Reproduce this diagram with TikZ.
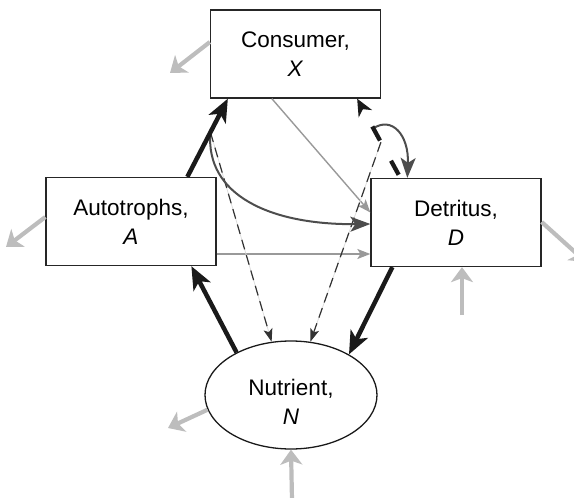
\documentclass[tikz,border=0pt]{standalone}
\usepackage{fontspec}
\setmainfont{Liberation Sans}
\usetikzlibrary{arrows.meta,shapes.geometric,calc}
\definecolor{ingray}{HTML}{BDBDBD}
\definecolor{midgray}{HTML}{999999}
\definecolor{curvegray}{HTML}{4D4D4D}
\definecolor{faint}{HTML}{DDDDDD}
\definecolor{inkblack}{HTML}{1A1A1A}
\begin{document}
\begin{tikzpicture}[x=1pt,y=-1pt,
  lbltext/.style={align=center,font=\fontsize{22.5}{29}\selectfont,inner sep=0pt},
  box/.style={lbltext,draw=black!85,line width=1.3pt,minimum width=170pt,minimum height=88pt},
  ell/.style={ellipse,draw=black!90,line width=1.3pt,minimum width=172pt,minimum height=108pt,inner sep=0pt},
  bigflow/.style={draw=inkblack,line width=4.5pt,-{Stealth[length=23pt,width=19pt,inset=6pt]}},
  bigdash/.style={draw=inkblack,line width=4.3pt,dash pattern=on 16pt off 23pt,dash phase=35.5pt,-{Stealth[length=17pt,width=15pt,inset=5pt]}},
  thinflow/.style={draw=midgray,line width=1.4pt,-{Stealth[length=13pt,width=10pt,inset=3pt]}},
  curveflow/.style={draw=curvegray,line width=2pt,-{Stealth[length=20pt,width=15pt,inset=5pt]}},
  faintline/.style={draw=faint,line width=0.8pt},
  dashflow/.style={draw=black!80,line width=1.2pt,dash pattern=on 10pt off 6pt,-{Stealth[length=13pt,width=9pt,inset=3pt]}},
  extflow/.style={draw=ingray,line width=4.2pt,-{Stealth[length=15pt,width=22pt,inset=4pt]}}
]
\useasboundingbox (0,0) rectangle (574,498);
% compartments
\node[box] (X) at (295.5,54) {Consumer,\\ \textit{X}};
\node[box] (A) at (131,221.5) {Autotrophs,\\ \textit{A}};
\node[box] (D) at (456,222.5) {Detritus,\\ \textit{D}};
\node[ell] (N) at (291,395) {};
\node[lbltext] (Nt) at (291,402) {Nutrient,\\ \textit{N}};
% key points
\coordinate (ax0) at ([xshift=142pt]A.north west);
\coordinate (ax1) at ([xshift=18pt]X.south west);
\coordinate (dx0) at ([xshift=30pt]D.north west);
\coordinate (dx1) at ([xshift=-24pt]X.south east);
\coordinate (p1) at ($(ax0)!0.57!(ax1)$);
\coordinate (q1) at ($(dx0)!0.625!(dx1)$);
\coordinate (q2) at ($(dx0)!0.45!(dx1)$);
\coordinate (a1) at ([yshift=-32.5pt]A.east);
% thin grey flows
\draw[thinflow] ([xshift=62pt]X.south west) -- ([yshift=10pt]D.west);
\draw[thinflow] (a1) -- (a1 -| D.west);
% dashed flows to nutrient
\draw[faintline] (p1) -- (N.110);
\draw[dashflow] (p1) -- (N.110);
\draw[faintline] (q2) -- (N.70);
\draw[dashflow] (q2) -- (N.70);
% curved flows
\draw[curveflow] (p1) .. controls (205,195) and (270,225) .. ([yshift=-1.5pt]D.west);
\draw[curveflow] (q1) .. controls (392,116) and (409,135) .. ([xshift=37pt]D.north west);
% thick flows
\draw[bigflow] (ax0) -- (ax1);
\draw[bigflow] (N.142) -- ([xshift=146pt]A.south west);
\draw[bigflow] ([xshift=22pt]D.south west) -- (N.35);
\draw[bigdash] (dx0) -- (dx1);
% external flows
\coordinate (xo) at (170,73);
\coordinate (ao) at (6,247);
\coordinate (do) at (586,262);
\coordinate (no) at (168,428);
\coordinate (di) at (462,315);
\coordinate (ni) at (292,500);
\draw[extflow] ([yshift=12pt]X.west) -- (xo);
\draw[extflow] ([yshift=4.5pt]A.west) -- (ao);
\draw[extflow] ([yshift=0.5pt]D.east) -- (do);
\draw[extflow] (N.190) -- (no);
\draw[extflow] (di) -- (di |- D.south);
\draw[extflow] (ni) -- (N.south);
\end{tikzpicture}
\end{document}
